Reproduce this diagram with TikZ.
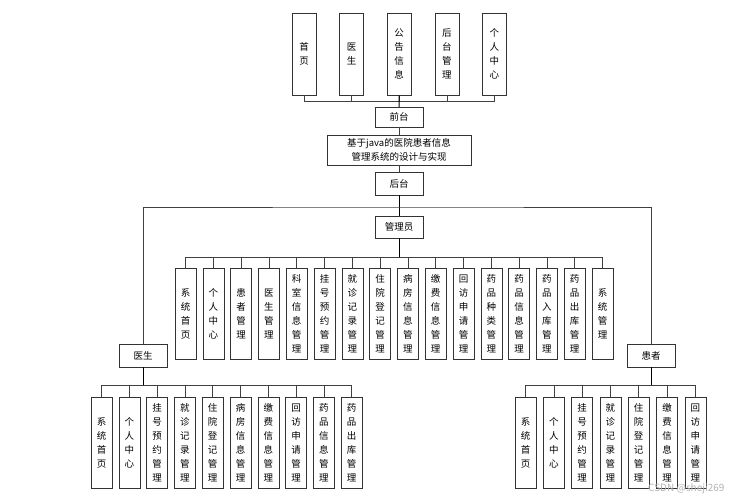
\documentclass[tikz,border=0pt]{standalone}
\usepackage{fontspec}
\setmainfont{Noto Sans CJK SC}
\usetikzlibrary{positioning}
\tikzset{
  box/.style={draw=black!80,fill=white,inner sep=0pt,align=center,font=\fontsize{9.5}{14}\selectfont},
  vbox/.style={box,minimum width=21pt,minimum height=91pt,anchor=north},
  tbox/.style={box,minimum width=24pt,minimum height=82pt,anchor=north},
  hbox/.style={box,minimum width=48pt,minimum height=22pt},
  link/.style={draw=black!75,line width=0.6pt},
  trunk/.style={draw=black,line width=1pt}
}
\begin{document}
\begin{tikzpicture}[x=1pt,y=-1pt]
\useasboundingbox (0,0) rectangle (730,500);
% front side
\foreach \t [count=\i] in {首\\页,医\\生,公\\告\\信\\息,后\\台\\管\\理,个\\人\\中\\心}
  \node[tbox] (f\i) at ({304+47.6*(\i-1)},13) {\t};
\node[hbox,minimum height=20pt] (front) at (399,117) {前台};
\node[box,minimum width=144pt,minimum height=30pt] (sys) at (399,150) {基于java的医院患者信息\\管理系统的设计与实现};
\node[hbox,minimum height=23pt] (back) at (399,183.5) {后台};
\coordinate (fbus) at (399,101);
\foreach \i in {1,...,5} \draw[link] (f\i.south) |- (fbus);
\draw[trunk] (f3.south) -- (front);
\draw[link] (front) -- (sys);
\draw[link] (sys) -- (back);
% back side
\node[hbox] (admin) at (399,227) {管理员};
\node[hbox,minimum height=23pt] (doc) at (143,355.5) {医生};
\node[hbox,minimum height=23pt] (pat) at (651,355.5) {患者};
\coordinate (bbus) at (399,207);
\draw[trunk] (back) -- (admin);
\draw[link] (doc) |- (bbus) -| (pat);
% admin
\foreach \t [count=\i] in {系\\统\\首\\页,个\\人\\中\\心,患\\者\\管\\理,医\\生\\管\\理,科\\室\\信\\息\\管\\理,挂\\号\\预\\约\\管\\理,就\\诊\\记\\录\\管\\理,住\\院\\登\\记\\管\\理,病\\房\\信\\息\\管\\理,缴\\费\\信\\息\\管\\理,回\\访\\申\\请\\管\\理,药\\品\\种\\类\\管\\理,药\\品\\信\\息\\管\\理,药\\品\\入\\库\\管\\理,药\\品\\出\\库\\管\\理,系\\统\\管\\理}
  \node[vbox] (a\i) at ({185.5+27.8*(\i-1)},268) {\t};
\coordinate (abus) at (399,257);
\foreach \i in {1,...,16} \draw[link] (a\i.north) |- (abus);
\draw[trunk] (admin) -- (abus);
% doctor
\foreach \t [count=\i] in {系\\统\\首\\页,个\\人\\中\\心,挂\\号\\预\\约\\管\\理,就\\诊\\记\\录\\管\\理,住\\院\\登\\记\\管\\理,病\\房\\信\\息\\管\\理,缴\\费\\信\\息\\管\\理,回\\访\\申\\请\\管\\理,药\\品\\信\\息\\管\\理,药\\品\\出\\库\\管\\理}
  \node[vbox] (d\i) at ({101.5+27.8*(\i-1)},397) {\t};
\coordinate (dbus) at (143,385);
\foreach \i in {1,...,10} \draw[link] (d\i.north) |- (dbus);
\draw[trunk] (doc) -- (dbus);
% patient
\foreach \t [count=\i] in {系\\统\\首\\页,个\\人\\中\\心,挂\\号\\预\\约\\管\\理,就\\诊\\记\\录\\管\\理,住\\院\\登\\记\\管\\理,缴\\费\\信\\息\\管\\理,回\\访\\申\\请\\管\\理}
  \node[vbox] (p\i) at ({525.5+28.3*(\i-1)},397) {\t};
\coordinate (pbus) at (651,385);
\foreach \i in {1,...,7} \draw[link] (p\i.north) |- (pbus);
\draw[trunk] (pat) -- (pbus);
\node[text=black!30,font=\fontsize{10}{12}\selectfont,anchor=south east] (mark) at (728,497) {CSDN @sheji269};
\end{tikzpicture}
\end{document}
